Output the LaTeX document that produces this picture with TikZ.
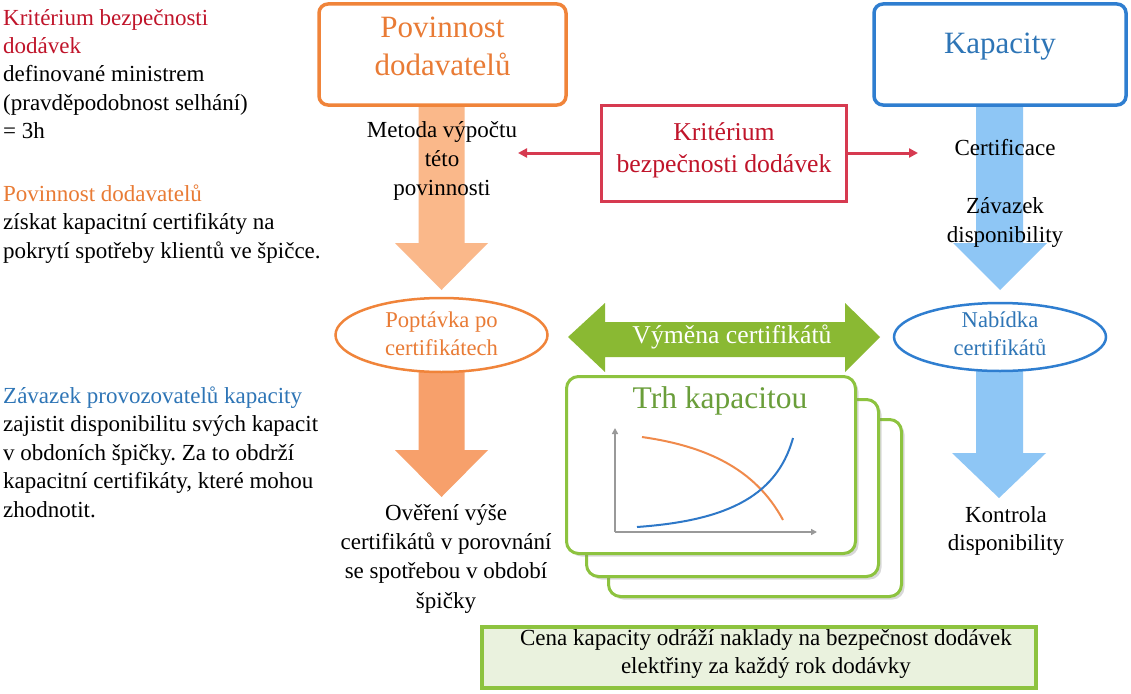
\documentclass[tikz,border=0pt]{standalone}
\usepackage{fontspec}
\setmainfont{Liberation Serif}
\frenchspacing
\usetikzlibrary{arrows.meta,shapes.geometric,shadows}
\definecolor{cred}{HTML}{C0142A}
\definecolor{credbox}{HTML}{D63A50}
\definecolor{corange}{HTML}{E97B35}
\definecolor{corangebox}{HTML}{F0843A}
\definecolor{carrA}{HTML}{FAB88A}
\definecolor{carrB}{HTML}{F7A06B}
\definecolor{cblue}{HTML}{2E75B6}
\definecolor{cbluebox}{HTML}{2F7ED0}
\definecolor{carrblue}{HTML}{8EC6F5}
\definecolor{cgreen}{HTML}{8DC33F}
\definecolor{cgreenarr}{HTML}{8AB933}
\definecolor{cgreentext}{HTML}{6A9E3A}
\definecolor{cgreenfill}{HTML}{EAF2DE}
\definecolor{corcurve}{HTML}{F08A4B}
\definecolor{cblcurve}{HTML}{2E78C8}
\begin{document}
\begin{tikzpicture}[x=1pt,y=-1pt,
  body/.style={font=\fontsize{23}{28.5}\selectfont, inner sep=0pt, align=center},
  bodyl/.style={font=\fontsize{23}{28.4}\selectfont, inner sep=0pt, align=left, anchor=base west},
  headbox/.style={rounded corners=9pt, line width=3.5pt, fill=white},
  headtext/.style={font=\fontsize{31}{38}\selectfont, inner sep=0pt, align=center, anchor=base},
  ell/.style={ellipse, line width=2.5pt, fill=white},
  ellt/.style={font=\fontsize{22.6}{28}\selectfont, inner sep=0pt, align=center, anchor=base},
  card/.style={draw=cgreen, line width=3pt, fill=white, rounded corners=12pt,
    minimum width=290pt, minimum height=177pt, drop shadow={opacity=0.3, shadow xshift=3pt, shadow yshift=-3pt}},
  redline/.style={draw=credbox, line width=3pt, -{Triangle[length=9pt,width=9pt]}},
  axis/.style={draw=gray!80, line width=1.8pt, -{Triangle[length=6pt,width=6pt]}}
]
\useasboundingbox (0,0) rectangle (1131,693);
\fill[white] (0,0) rectangle (1131,693);

% left texts (base anchor = last line)
\node[bodyl] (lt1) at (3,138.6) {\textcolor{cred}{Kritérium bezpečnosti}\\\textcolor{cred}{dodávek}\\definované ministrem\\(pravděpodobnost selhání)\\= 3h};
\node[bodyl] (lt2) at (3,258) {\textcolor{corange}{Povinnost dodavatelů}\\získat kapacitní certifikáty na\\pokrytí spotřeby klientů ve špičce.};
\node[bodyl, font=\fontsize{23}{28.5}\selectfont] (lt3) at (3,517) {\textcolor{cblue}{Závazek provozovatelů kapacity}\\zajistit disponibilitu svých kapacit\\v obdoních špičky. Za to obdrží\\kapacitní certifikáty, které mohou\\zhodnotit.};

% arrows (block)
\fill[carrA] (418.5,106) -- (464.5,106) -- (464.5,243) -- (488,243) -- (441.5,290) -- (395,243) -- (418.5,243) -- cycle;
\fill[carrB] (418.5,370) -- (464.5,370) -- (464.5,450) -- (488,450) -- (441.5,497) -- (395,450) -- (418.5,450) -- cycle;
\fill[carrblue] (976,106) -- (1023,106) -- (1023,243) -- (1047,243) -- (1000,290) -- (953,243) -- (976,243) -- cycle;
\fill[carrblue] (976,368) -- (1023,368) -- (1023,453) -- (1046,453) -- (999,498) -- (952,453) -- (976,453) -- cycle;

% top boxes
\node[headbox, draw=corangebox, minimum width=247pt, minimum height=101pt] (pov) at (442.5,54.5) {};
\node[headtext, text=corange] (povt) at (442.5,75) {Povinnost\\dodavatelů};
\node[headbox, draw=cbluebox, minimum width=252pt, minimum height=101pt] (kap) at (1000,54.5) {};
\node[headtext, text=cblue] (kapt) at (1000,53) {Kapacity};

% red criterion box
\node[draw=credbox, line width=3pt, fill=white, minimum width=245pt, minimum height=96pt] (krit) at (724,153.5) {};
\node[font=\fontsize{25.7}{32}\selectfont, inner sep=0pt, align=center, anchor=base, text=cred] (kritt) at (724,172) {Kritérium\\bezpečnosti dodávek};
\coordinate (ltip) at (518,153);
\coordinate (rtip) at (918,153);
\draw[redline] (krit.west |- ltip) -- (ltip);
\draw[redline] (krit.east |- rtip) -- (rtip);

% texts on arrows
\node[body, anchor=base, font=\fontsize{23}{29}\selectfont] (metoda) at (442,195) {Metoda výpočtu\\této\\povinnosti};
\node[body, anchor=base] (cert) at (1005,155) {Certificace};
\node[body, anchor=base, font=\fontsize{23}{29}\selectfont] (zav) at (1005,242) {Závazek\\disponibility};

% ellipses
\node[ell, draw=corangebox, minimum width=212pt, minimum height=74pt] (popt) at (441.5,335) {};
\node[ellt, text=corange] (poptt) at (441.5,355) {Poptávka po\\certifikátech};
\node[ell, draw=cbluebox, minimum width=212pt, minimum height=68pt] (nab) at (1000,337) {};
\node[ellt, text=cblue] (nabt) at (1000,355) {Nabídka\\certifikátů};

% green double arrow
\fill[cgreenarr] (568,337) -- (605,303) -- (605,322) -- (845,322) -- (845,303) -- (880,337) -- (845,372) -- (845,357) -- (605,357) -- (605,372) -- cycle;
\node[font=\fontsize{25.7}{30}\selectfont, inner sep=0pt, anchor=base, text=white] (vym) at (732,343) {Výměna certifikátů};

% cards
\node[card, minimum width=293pt] (card3) at (755,508) {};
\node[card, minimum width=292pt] (card2) at (732.5,488) {};
\node[card, minimum width=289pt] (card1) at (711,465) {};
\node[font=\fontsize{31.5}{36}\selectfont, inner sep=0pt, anchor=base, text=cgreentext] (trh) at (720,408) {Trh kapacitou};
\coordinate (org) at (615,532);
\coordinate (yend) at (615,428);
\coordinate (xend) at (817,532);
\draw[axis] (org) -- (yend);
\draw[axis] (org) -- (xend);
\draw[corcurve, line width=2pt] (642,437) .. controls (705,446) and (755,468) .. (783,520);
\draw[cblcurve, line width=2pt] (637,527) .. controls (720,521) and (776,500) .. (793,438);

% bottom box
\node[draw=cgreen, line width=4pt, fill=cgreenfill, minimum width=554pt, minimum height=61pt, drop shadow={opacity=0.2, shadow xshift=2pt, shadow yshift=-2pt}] (cena) at (759,657.5) {};
\node[body, anchor=base, font=\fontsize{23}{27.5}\selectfont] (cenat) at (766,673) {Cena kapacity odráží naklady na bezpečnost dodávek\\elektřiny za každý rok dodávky};

% bottom texts
\node[body, anchor=base, font=\fontsize{23}{29.3}\selectfont] (over) at (446,608) {Ověření výše\\certifikátů v porovnání\\se spotřebou v období\\špičky};
\node[body, anchor=base, font=\fontsize{23}{27.5}\selectfont] (kontr) at (1006,550) {Kontrola\\disponibility};
\end{tikzpicture}
\end{document}
